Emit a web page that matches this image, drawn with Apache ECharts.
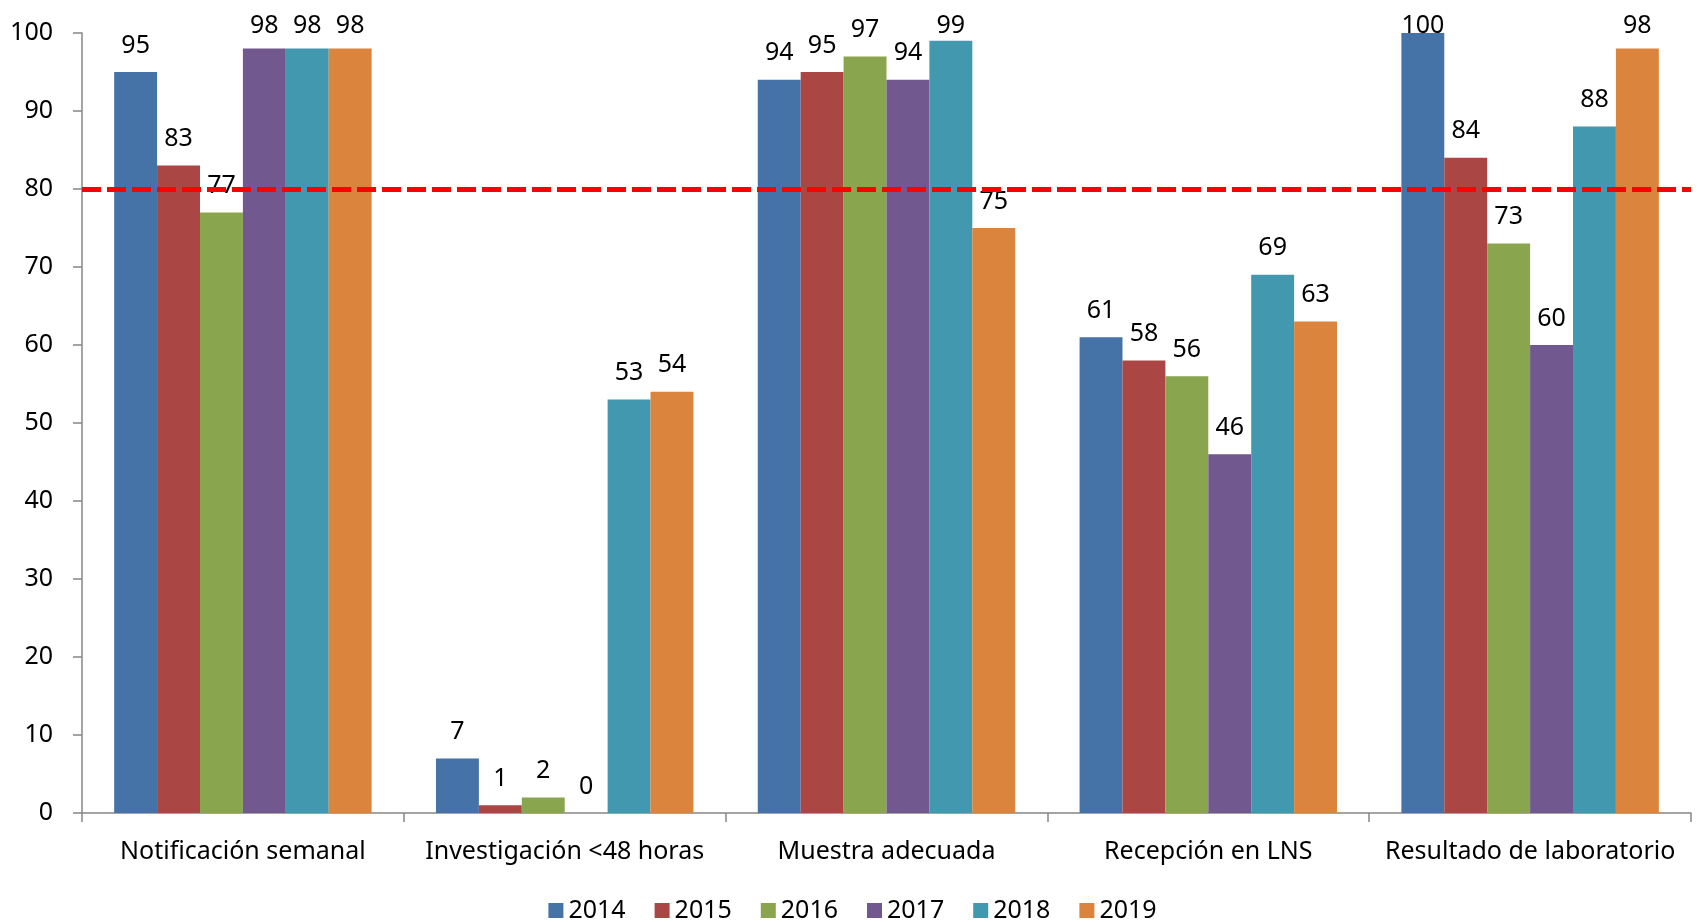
<!DOCTYPE html>
<html>
<head>
<meta charset="utf-8">
<script src="https://cdn.jsdelivr.net/npm/echarts@6/dist/echarts.min.js"></script>
<style>
  html, body { margin: 0; padding: 0; background: #fff; }
  #chart { width: 1705px; height: 922px; }
</style>
</head>
<body>
<div id="chart"></div>
<script>
const categories = [
  "Notificación semanal",
  "Investigación <48 horas",
  "Muestra adecuada",
  "Recepción en LNS",
  "Resultado de laboratorio"
]
const years = ["2014", "2015", "2016", "2017", "2018", "2019"]
const values2014 = [95, 7, 94, 61, 100]
const values2015 = [83, 1, 95, 58, 84]
const values2016 = [77, 2, 97, 56, 73]
const values2017 = [98, 0, 94, 46, 60]
const values2018 = [98, 53, 99, 69, 88]
const values2019 = [98, 54, 75, 63, 98]
const yTicks = [0, 10, 20, 30, 40, 50, 60, 70, 80, 90, 100]
const targetValue = 80

const seriesValues = [values2014, values2015, values2016, values2017, values2018, values2019]

// Excel 2010 palette
const colors = ["#4572A7", "#AA4643", "#89A54E", "#71588F", "#4198AF", "#DB843D"]
const font = "Noto Sans"
const axisGray = "#868686"
// labels near the top get pushed down like Excel does (center y in px)
const labelMinCenter = 26

const chart = echarts.init(document.getElementById("chart"))

const series = years.map((year, i) => {
  const s = {
    name: year,
    type: "bar",
    data: seriesValues[i],
    barGap: "0%",
    barCategoryGap: "20%",
    itemStyle: { color: colors[i] },
    label: {
      show: true,
      position: "top",
      distance: 14,
      color: "#000",
      fontFamily: font,
      fontSize: 25
    },
    labelLayout: (params) => {
      const r = params.labelRect
      if (r.y + r.height / 2 >= labelMinCenter) return {}
      return {
        x: r.x,
        y: labelMinCenter - r.height / 2,
        align: "left",
        verticalAlign: "top"
      }
    }
  }
  if (i === 0) {
    s.markLine = {
      silent: true,
      symbol: "none",
      label: { show: false },
      lineStyle: { color: "#FF0000", width: 5, type: [19, 6] },
      data: [{ yAxis: targetValue }]
    }
  }
  return s
})

chart.setOption({
  backgroundColor: "#fff",
  animation: false,
  textStyle: { fontFamily: font },
  grid: { left: 82, right: 14, top: 33, bottom: 109, containLabel: false },
  legend: {
    data: years,
    top: 893,
    left: "center",
    itemWidth: 15,
    itemHeight: 15,
    itemGap: 29,
    icon: "rect",
    textStyle: { color: "#000", fontFamily: font, fontSize: 25 }
  },
  xAxis: {
    type: "category",
    data: categories,
    axisLine: { lineStyle: { color: axisGray, width: 1.5 } },
    axisTick: { show: true, length: 9, lineStyle: { color: axisGray, width: 1.5 } },
    axisLabel: { color: "#000", fontFamily: font, fontSize: 25, margin: 26, interval: 0 }
  },
  yAxis: {
    type: "value",
    min: yTicks[0],
    max: yTicks[yTicks.length - 1],
    interval: yTicks[1] - yTicks[0],
    splitLine: { show: false },
    axisLine: { show: true, lineStyle: { color: axisGray, width: 1.5 } },
    axisTick: { show: true, length: 9, lineStyle: { color: axisGray, width: 1.5 } },
    axisLabel: { color: "#000", fontFamily: font, fontSize: 25, margin: 29 }
  },
  series: series
})
</script>
</body>
</html>
